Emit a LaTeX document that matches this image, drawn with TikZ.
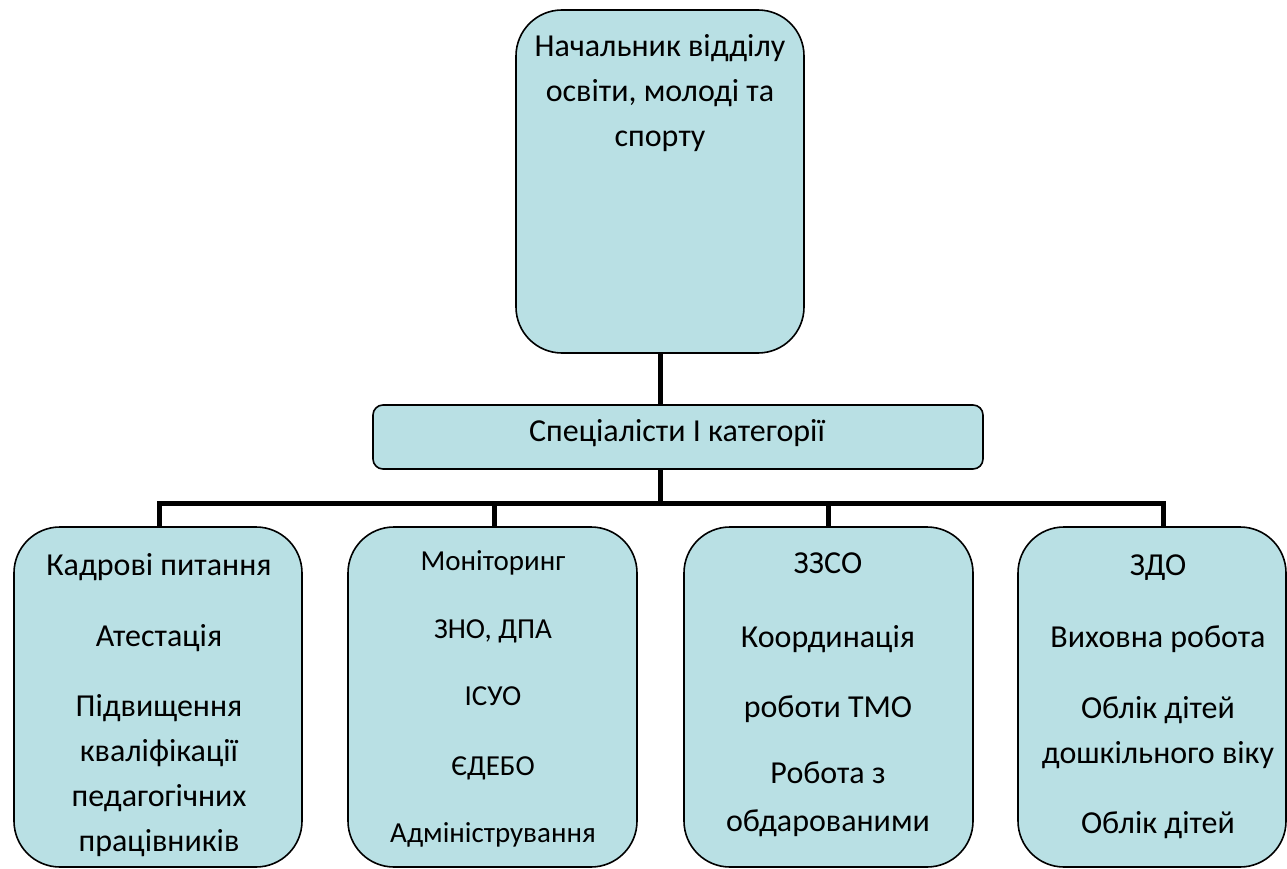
\documentclass[tikz,border=0pt]{standalone}
\usepackage{fontspec}
\setmainfont{Carlito}
\definecolor{boxfill}{RGB}{185,224,228}
\tikzset{
  box/.style={draw=black, fill=boxfill, line width=1.6pt, rectangle, inner sep=0pt},
  bigbox/.style={box, rounded corners=46pt},
  midbox/.style={box, rounded corners=10pt},
  conn/.style={draw=black, line width=5pt},
  lbl/.style={anchor=base, inner sep=0pt, font=\fontsize{32}{38}\selectfont},
  lbls/.style={anchor=base, inner sep=0pt, font=\fontsize{29}{35}\selectfont},
}
\begin{document}
\begin{tikzpicture}[x=1pt,y=-1pt]
\useasboundingbox (0,0) rectangle (1287,869);
\clip (0,0) rectangle (1287,869);
% boxes
\node[bigbox, minimum width=288pt, minimum height=343pt] (top) at (660,181.5) {};
\node[midbox, minimum width=610pt, minimum height=64pt] (mid) at (678,437) {};
\node[bigbox, minimum width=288pt, minimum height=340pt] (b1) at (158,697) {};
\node[bigbox, minimum width=289pt, minimum height=340pt] (b2) at (492.5,697) {};
\node[bigbox, minimum width=289pt, minimum height=340pt] (b3) at (828.5,697) {};
\node[bigbox, minimum width=268pt, minimum height=340pt] (b4) at (1152,697) {};
% connectors
\coordinate (bus) at (660,503);
\coordinate (d1) at (159,503);
\coordinate (d2) at (494,503);
\coordinate (d3) at (828,503);
\coordinate (d4) at (1163,503);
\draw[conn] (top.south) -- (top.south |- mid.north);
\draw[conn] (mid.south -| bus) -- (bus);
\draw[conn, line cap=rect] (d1) -- (d4);
\draw[conn] (d1) -- (d1 |- b1.north);
\draw[conn] (d2) -- (d2 |- b2.north);
\draw[conn] (d3) -- (d3 |- b3.north);
\draw[conn] (d4) -- (d4 |- b4.north);
% texts
\node[lbl] (t1) at (660,57) {Начальник відділу};
\node[lbl] (t2) at (660,102) {освіти, молоді та};
\node[lbl] (t3) at (660,147) {спорту};
\node[lbl] (m1) at (677,441) {Спеціалісти І категорії};
\node[lbl] (a1) at (159,575) {Кадрові питання};
\node[lbl] (a2) at (159,646) {Атестація};
\node[lbl] (a3) at (159,716) {Підвищення};
\node[lbl] (a4) at (159,761) {кваліфікації};
\node[lbl] (a5) at (159,806) {педагогічних};
\node[lbl] (a6) at (159,851) {працівників};
\node[lbls] (c1) at (493,570) {Моніторинг};
\node[lbls] (c2) at (493,638) {ЗНО, ДПА};
\node[lbls] (c3) at (493,705) {ІСУО};
\node[lbls] (c4) at (493,775) {ЄДЕБО};
\node[lbls] (c5) at (493,842) {Адміністрування};
\node[lbl] (e1) at (828,573) {ЗЗСО};
\node[lbl] (e2) at (828,647) {Координація};
\node[lbl] (e3) at (828,717) {роботи ТМО};
\node[lbl] (e4) at (828,783) {Робота з};
\node[lbl] (e5) at (828,831) {обдарованими};
\node[lbl] (f1) at (1158,575) {ЗДО};
\node[lbl] (f2) at (1158,647) {Виховна робота};
\node[lbl] (f3) at (1158,718) {Облік дітей};
\node[lbl] (f4) at (1158,763) {дошкільного віку};
\node[lbl] (f5) at (1158,833) {Облік дітей};
\end{tikzpicture}
\end{document}
